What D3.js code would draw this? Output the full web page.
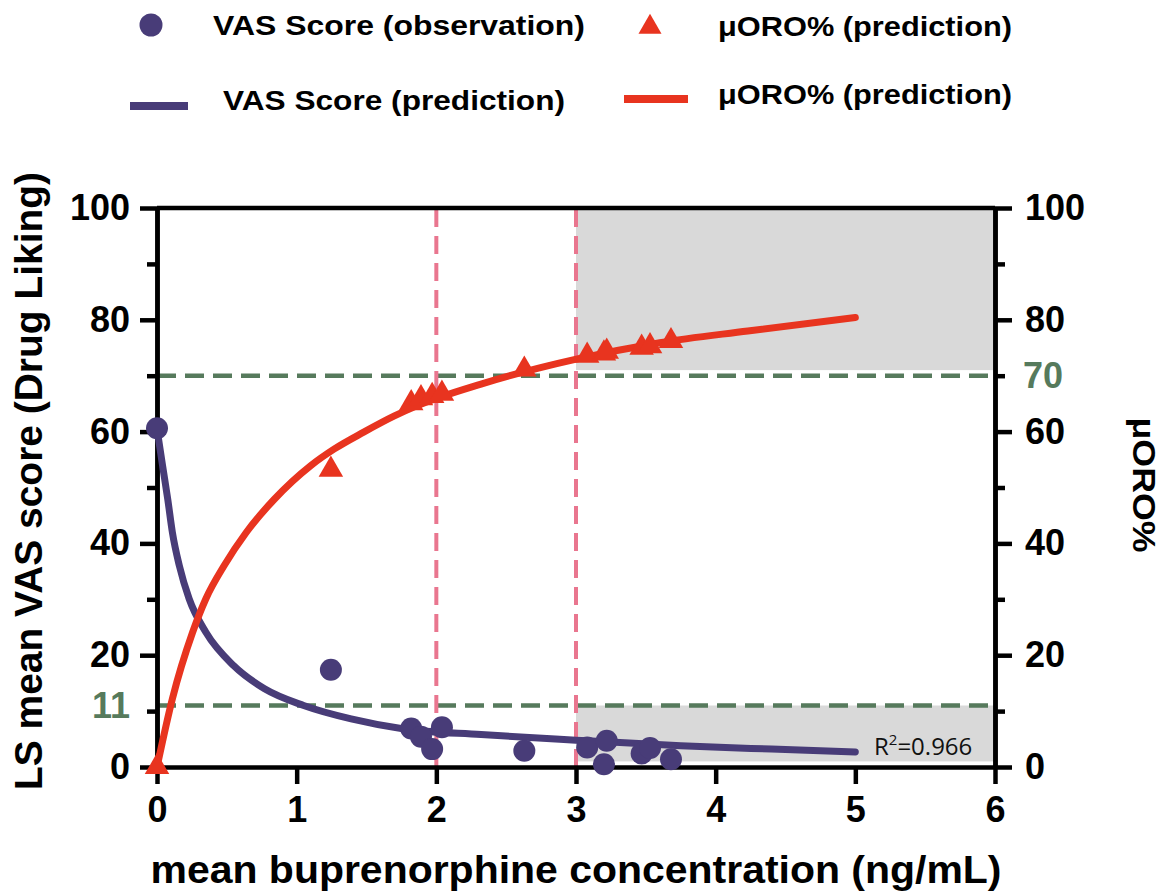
<!DOCTYPE html>
<html>
<head>
<meta charset="utf-8">
<script src="https://cdn.jsdelivr.net/npm/d3@7"></script>
<style>
  body { margin: 0; background: #ffffff; }
  svg { display: block; }
</style>
</head>
<body>
<svg id="chart" width="1172" height="891"></svg>
<script>
// ---------- data ----------
const obsConc = [0, 1.245, 1.82, 1.89, 1.97, 2.04, 2.63, 3.08, 3.20, 3.22, 3.47, 3.53, 3.68];
const vasObs  = [60.6, 17.4, 6.9, 5.4, 3.2, 7.1, 2.9, 3.5, 0.5, 4.7, 2.4, 3.4, 1.4];
const oroPred = [0, 53.2, 65.1, 66.0, 66.4, 66.8, 71.1, 73.6, 74.0, 74.3, 75.0, 75.3, 76.2];

const vasCurveX = [0, 0.04, 0.077, 0.11, 0.16, 0.23, 0.35, 0.55, 0.77, 1.05, 1.39, 1.77, 2.32, 3.0, 3.75, 4.4, 5.0];
const vasCurveY = [60.5, 53.9, 47.9, 42.0, 36.0, 30.1, 24.1, 18.1, 14.0, 11.0, 8.6, 6.8, 5.8, 4.8, 3.8, 3.2, 2.7];

const oroCurveX = [0, 0.11, 0.255, 0.35, 0.48, 0.64, 0.84, 1.10, 1.27, 1.48, 1.70, 1.86, 2.32, 3.01, 3.6, 4.23, 5.0];
const oroCurveY = [0, 12.2, 24.1, 30.1, 36.0, 42.0, 47.9, 53.9, 56.9, 59.9, 62.8, 64.6, 68.5, 73.0, 75.9, 78.0, 80.4];

const xTicks = [0, 1, 2, 3, 4, 5, 6];
const yTicks = [0, 20, 40, 60, 80, 100];
const yMinorTicks = [10, 30, 50, 70, 90];
const thresholdVAS = 11;
const thresholdORO = 70;
const concLines = [2, 3];
const shadeX = [3, 6];
const shadeTop = [71, 100];
const shadeBottom = [1, 11];
const r2Label = "0.966";

// ---------- style ----------
const C_BLUE = "#483c78";
const C_RED = "#e8341f";
const C_GREEN = "#567a5c";
const C_PINK = "#e9768f";
const C_GRAY = "#d9d9d9";
const FONT = "'Liberation Sans', Arial, sans-serif";

const svg = d3.select("#chart");
svg.append("rect").attr("width", 1172).attr("height", 891).attr("fill", "#fff");

const x = d3.scaleLinear().domain([0, 6]).range([157, 995]);
const y = d3.scaleLinear().domain([0, 100]).range([767, 208]);
const y2 = d3.scaleLinear().domain([0, 100]).range([767, 208]);

// shading
[shadeTop, shadeBottom].forEach(r => {
  svg.append("rect")
    .attr("x", x(shadeX[0])).attr("width", x(shadeX[1]) - x(shadeX[0]))
    .attr("y", y(r[1])).attr("height", y(r[0]) - y(r[1]))
    .attr("fill", C_GRAY);
});

// green threshold dashed lines
[thresholdVAS, thresholdORO].forEach(v => {
  svg.append("line")
    .attr("x1", x(0)).attr("x2", x(6))
    .attr("y1", y(v)).attr("y2", y(v))
    .attr("stroke", C_GREEN).attr("stroke-width", 4.5)
    .attr("stroke-dasharray", "19,9");
});

// pink vertical dashed lines
concLines.forEach(c => {
  svg.append("line")
    .attr("x1", x(c)).attr("x2", x(c))
    .attr("y1", y(0)).attr("y2", y(100))
    .attr("stroke", C_PINK).attr("stroke-width", 4)
    .attr("stroke-dasharray", "18,9");
});

// R^2 text
const r2 = svg.append("text")
  .attr("x", 874).attr("y", 755)
  .attr("font-family", "'Open Sans', 'Noto Sans', sans-serif")
  .attr("font-size", 24).attr("fill", "#111");
r2.append("tspan").text("R");
r2.append("tspan").attr("font-size", 15).attr("dy", -10).text("2");
r2.append("tspan").attr("dy", 10).text("=" + r2Label);

// axes
function styleAxis(g) {
  g.select(".domain").attr("stroke", "#000").attr("stroke-width", 4.5);
  g.selectAll(".tick line").attr("stroke", "#000").attr("stroke-width", 4.5);
  g.selectAll(".tick text")
    .attr("font-family", FONT).attr("font-weight", "bold")
    .attr("font-size", 36).attr("fill", "#000");
}

// top border
svg.append("line").attr("x1", x(0)).attr("x2", x(6))
  .attr("y1", y(100)).attr("y2", y(100))
  .attr("stroke", "#000").attr("stroke-width", 4.5);

const fmt = d3.format("d");

const gLeftMinor = svg.append("g").attr("transform", `translate(${x(0)},0)`)
  .call(d3.axisLeft(y).tickValues(yMinorTicks).tickSize(10).tickFormat("").tickSizeOuter(0));
styleAxis(gLeftMinor);
const gLeft = svg.append("g").attr("transform", `translate(${x(0)},0)`)
  .call(d3.axisLeft(y).tickValues(yTicks).tickSize(17).tickPadding(10).tickFormat(fmt).tickSizeOuter(0));
styleAxis(gLeft);

const gRightMinor = svg.append("g").attr("transform", `translate(${x(6)},0)`)
  .call(d3.axisRight(y2).tickValues(yMinorTicks).tickSize(10).tickFormat("").tickSizeOuter(0));
styleAxis(gRightMinor);
const gRight = svg.append("g").attr("transform", `translate(${x(6)},0)`)
  .call(d3.axisRight(y2).tickValues(yTicks).tickSize(17).tickPadding(13).tickFormat(fmt).tickSizeOuter(0));
styleAxis(gRight);

const gBottom = svg.append("g").attr("transform", `translate(0,${y(0)})`)
  .call(d3.axisBottom(x).tickValues(xTicks).tickSize(17).tickPadding(12).tickFormat(fmt).tickSizeOuter(0));
styleAxis(gBottom);

// green threshold labels
svg.append("text").attr("x", x(0) - 27).attr("y", y(thresholdVAS)).attr("dy", "0.35em")
  .attr("text-anchor", "end").attr("font-family", FONT).attr("font-weight", "bold")
  .attr("font-size", 36).attr("fill", C_GREEN).text(thresholdVAS);
svg.append("text").attr("x", x(6) + 28).attr("y", y2(thresholdORO)).attr("dy", "0.35em")
  .attr("text-anchor", "start").attr("font-family", FONT).attr("font-weight", "bold")
  .attr("font-size", 36).attr("fill", C_GREEN).text(thresholdORO);

// curves
const vasLine = d3.line().x(d => x(d[0])).y(d => y(d[1])).curve(d3.curveMonotoneX);
const oroLine = d3.line().x(d => x(d[0])).y(d => y2(d[1])).curve(d3.curveMonotoneX);
svg.append("path").datum(vasCurveX.map((c, i) => [c, vasCurveY[i]]))
  .attr("d", vasLine).attr("fill", "none").attr("stroke", C_BLUE)
  .attr("stroke-width", 7).attr("stroke-linecap", "round");
svg.append("path").datum(oroCurveX.map((c, i) => [c, oroCurveY[i]]))
  .attr("d", oroLine).attr("fill", "none").attr("stroke", C_RED)
  .attr("stroke-width", 7).attr("stroke-linecap", "round");

// markers
const tri = d3.symbol().type(d3.symbolTriangle).size(260);
svg.append("g").selectAll("path").data(obsConc.map((c, i) => [c, oroPred[i]]))
  .join("path").attr("d", tri)
  .attr("transform", d => `translate(${x(d[0])},${y2(d[1])})`)
  .attr("fill", C_RED);
svg.append("g").selectAll("circle").data(obsConc.map((c, i) => [c, vasObs[i]]))
  .join("circle").attr("cx", d => x(d[0])).attr("cy", d => y(d[1])).attr("r", 11)
  .attr("fill", C_BLUE);

// axis titles
svg.append("text").attr("transform", "translate(42,481) rotate(-90)")
  .attr("text-anchor", "middle").attr("font-family", FONT).attr("font-weight", "bold")
  .attr("font-size", 38).attr("fill", "#000")
  .attr("textLength", 618).attr("lengthAdjust", "spacingAndGlyphs")
  .text("LS mean VAS score (Drug Liking)");
svg.append("text").attr("transform", "translate(1133,485) rotate(90)")
  .attr("text-anchor", "middle").attr("font-family", FONT).attr("font-weight", "bold")
  .attr("font-size", 31).attr("fill", "#000")
  .attr("textLength", 135).attr("lengthAdjust", "spacingAndGlyphs")
  .text("μORO%");
svg.append("text").attr("x", 576).attr("y", 883)
  .attr("text-anchor", "middle").attr("font-family", FONT).attr("font-weight", "bold")
  .attr("font-size", 38).attr("fill", "#000")
  .attr("textLength", 851).attr("lengthAdjust", "spacingAndGlyphs")
  .text("mean buprenorphine concentration (ng/mL)");

// legend
const legend = svg.append("g");
legend.append("circle").attr("cx", 151).attr("cy", 25).attr("r", 11.5).attr("fill", C_BLUE);
legend.append("path").attr("d", d3.symbol().type(d3.symbolTriangle).size(230))
  .attr("transform", "translate(650,27)").attr("fill", C_RED);
legend.append("line").attr("x1", 130).attr("x2", 188).attr("y1", 106).attr("y2", 106)
  .attr("stroke", C_BLUE).attr("stroke-width", 8);
legend.append("line").attr("x1", 624).attr("x2", 688).attr("y1", 99).attr("y2", 99)
  .attr("stroke", C_RED).attr("stroke-width", 8);
const legendItems = [
  { t: "VAS Score (observation)", x: 213, y: 35, w: 372 },
  { t: "μORO% (prediction)", x: 718, y: 36, w: 294 },
  { t: "VAS Score (prediction)", x: 223, y: 110, w: 342 },
  { t: "μORO% (prediction)", x: 718, y: 104, w: 294 }
];
legend.selectAll("text.lg").data(legendItems).join("text")
  .attr("class", "lg")
  .attr("x", d => d.x).attr("y", d => d.y)
  .attr("font-family", FONT).attr("font-weight", "bold").attr("font-size", 28)
  .attr("fill", "#000")
  .attr("textLength", d => d.w).attr("lengthAdjust", "spacingAndGlyphs")
  .text(d => d.t);
</script>
</body>
</html>
